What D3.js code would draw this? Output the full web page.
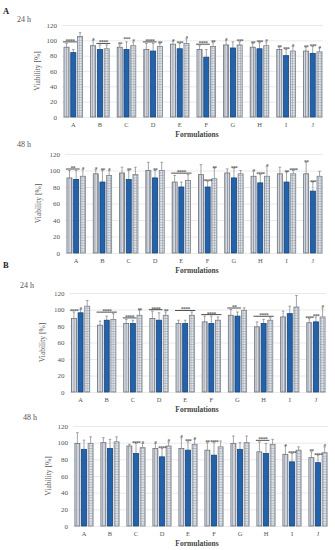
<!DOCTYPE html>
<html>
<head>
<meta charset="utf-8">
<script src="https://cdn.jsdelivr.net/npm/d3@7"></script>
<style>
  body { margin: 0; background: #fff; }
  svg { display: block; font-family: "Liberation Serif", "DejaVu Serif", serif; }
</style>
</head>
<body>
<div id="chart"></div>
<script>
const categories = ["A", "B", "C", "D", "E", "F", "G", "H", "I", "J"];
const yTicks = [0, 20, 40, 60, 80, 100, 120];

// A, 24 h
const a24Striped = [91, 93, 91, 88, 95, 88, 94, 91, 88, 86];
const a24Blue = [84, 88, 88, 86, 89, 78, 90, 89, 80, 83];
const a24Checked = [105, 89, 93, 92, 96, 92, 94, 93, 86, 85];
const a24StripedSd = [5, 7, 3, 8, 4, 5, 6, 5, 3, 5];
const a24BlueSd = [4, 6, 10, 10, 7, 10, 8, 8, 8, 9];
const a24CheckedSd = [5, 5, 5, 4, 6, 5, 4, 5, 6, 5];
const a24Stars = [["B", 0, "*"], ["C", 0, "**"], ["C", 2, "*"], ["D", 2, "**"], ["E", 0, "*"], ["E", 1, "***"], ["E", 2, "*"],
  ["F", 2, "**"], ["G", 0, "*"], ["G", 2, "***"], ["H", 0, "**"], ["H", 1, "***"], ["H", 2, "*"],
  ["I", 0, "**"], ["I", 1, "***"], ["I", 2, "*"], ["J", 0, "**"], ["J", 1, "***"], ["J", 2, "*"]];
const a24Lines = [["A", 0, 1, "****"], ["B", 1, 2, "****"], ["C", 1, 1, "***"], ["D", 0, 1, "****"], ["F", 0, 1, "****"]];

// A, 48 h
const a48Striped = [91, 96, 97, 100, 86, 95, 97, 93, 96, 96];
const a48Blue = [89, 86, 89, 91, 80, 80, 91, 85, 86, 75];
const a48Checked = [93, 94, 95, 100, 88, 90, 96, 93, 96, 93];
const a48StripedSd = [9, 5, 7, 10, 8, 12, 5, 6, 8, 14];
const a48BlueSd = [11, 14, 11, 9, 6, 7, 12, 10, 12, 11];
const a48CheckedSd = [8, 6, 9, 10, 7, 13, 4, 12, 4, 6];
const a48Stars = [["A", 2, "*"], ["B", 0, "*"], ["B", 1, "**"], ["B", 2, "*"], ["C", 1, "**"], ["D", 1, "**"],
  ["F", 1, "****"], ["F", 2, "**"], ["G", 1, "***"], ["H", 0, "*"], ["H", 1, "****"], ["H", 2, "*"],
  ["I", 1, "**"], ["I", 2, "****"], ["J", 0, "**"], ["J", 1, "***"]];
const a48Lines = [["A", 0, 1, "**"], ["E", 0, 2, "****"]];

// B, 24 h
const b24Striped = [89, 81, 83, 89, 83, 85, 93, 79, 91, 84];
const b24Blue = [96, 87, 83, 87, 83, 83, 92, 83, 95, 85];
const b24Checked = [104, 88, 93, 93, 93, 87, 99, 87, 103, 91];
const b24StripedSd = [8, 5, 5, 9, 4, 7, 7, 6, 7, 5];
const b24BlueSd = [4, 5, 4, 9, 4, 9, 5, 5, 9, 6];
const b24CheckedSd = [7, 7, 6, 4, 4, 4, 3, 3, 14, 11];
const b24Stars = [["A", 0, "****"], ["A", 1, "*"], ["C", 2, "**"], ["D", 2, "**"], ["J", 0, "****"], ["J", 1, "***"], ["J", 2, "*"]];
const b24Lines = [["B", 0, 2, "****"], ["C", 0, 1, "****"], ["D", 0, 1, "****"], ["E", 0, 2, "****"],
  ["F", 0, 2, "****"], ["G", 0, 1, "**"], ["H", 0, 2, "****"]];

// B, 48 h
const b48Striped = [99, 100, 96, 93, 93, 91, 99, 89, 86, 82];
const b48Blue = [92, 93, 87, 83, 91, 85, 92, 87, 77, 76];
const b48Checked = [99, 101, 94, 96, 98, 95, 100, 98, 91, 88];
const b48StripedSd = [13, 6, 2, 6, 13, 9, 9, 12, 10, 7];
const b48BlueSd = [11, 11, 12, 10, 10, 15, 8, 12, 10, 9];
const b48CheckedSd = [8, 6, 5, 5, 6, 7, 8, 6, 4, 7];
const b48Stars = [["C", 1, "****"], ["C", 2, "*"], ["D", 0, "*"], ["D", 1, "****"], ["D", 2, "*"], ["E", 0, "*"], ["E", 1, "***"], ["E", 2, "*"],
  ["F", 0, "**"], ["F", 1, "****"], ["I", 0, "*"], ["I", 1, "****"], ["J", 0, "**"], ["J", 1, "****"], ["J", 2, "*"]];
const b48Lines = [["H", 0, 1, "****"]];

const W = 335, H = 550;
const svg = d3.select("#chart").append("svg").attr("width", W).attr("height", H);

// fill patterns
const defs = svg.append("defs");
const stripe = defs.append("pattern").attr("id", "striped")
  .attr("patternUnits", "userSpaceOnUse").attr("width", 2.6).attr("height", 4);
stripe.append("rect").attr("width", 2.6).attr("height", 4).attr("fill", "#d3d8e1");
stripe.append("line").attr("x1", 1.3).attr("x2", 1.3).attr("y1", 0).attr("y2", 4)
  .attr("stroke", "#8c929c").attr("stroke-width", 0.8);
const check = defs.append("pattern").attr("id", "checked")
  .attr("patternUnits", "userSpaceOnUse").attr("width", 2.6).attr("height", 2.6);
check.append("rect").attr("width", 2.6).attr("height", 2.6).attr("fill", "#e2e6ed");
check.append("path").attr("d", "M1.3,0V2.6M0,1.3H2.6")
  .attr("stroke", "#a0a6b0").attr("stroke-width", 0.6).attr("fill", "none");

const seriesStyle = [
  { fill: "url(#striped)", stroke: "#6c727c" },
  { fill: "#2363ab", stroke: "#1a4277" },
  { fill: "url(#checked)", stroke: "#7a808a" }
];

const panels = [
  { letter: "A", letterY: 14, time: "24 h", timeX: 17, timeY: 22, x0: 60, x1: 326, yTop: 25, yBot: 117,
    values: [a24Striped, a24Blue, a24Checked], sds: [a24StripedSd, a24BlueSd, a24CheckedSd], stars: a24Stars, lines: a24Lines, titleX: 37 },
  { time: "48 h", timeX: 17, timeY: 147, x0: 63, x1: 326, yTop: 154, yBot: 253,
    values: [a48Striped, a48Blue, a48Checked], sds: [a48StripedSd, a48BlueSd, a48CheckedSd], stars: a48Stars, lines: a48Lines, titleX: 38 },
  { letter: "B", letterY: 268, time: "24 h", timeX: 20, timeY: 288, x0: 67.5, x1: 329, yTop: 293, yBot: 392,
    values: [b24Striped, b24Blue, b24Checked], sds: [b24StripedSd, b24BlueSd, b24CheckedSd], stars: b24Stars, lines: b24Lines, titleX: 42 },
  { time: "48 h", timeX: 23, timeY: 420, x0: 71, x1: 331, yTop: 426, yBot: 526,
    values: [b48Striped, b48Blue, b48Checked], sds: [b48StripedSd, b48BlueSd, b48CheckedSd], stars: b48Stars, lines: b48Lines, titleX: 48 }
];

panels.forEach(function (p) {
  const g = svg.append("g");

  if (p.letter) {
    svg.append("text").attr("x", 3).attr("y", p.letterY)
      .attr("font-size", 8.5).attr("font-weight", "bold").attr("fill", "#222").text(p.letter);
  }
  svg.append("text").attr("x", p.timeX).attr("y", p.timeY)
    .attr("font-size", 8).attr("fill", "#555").text(p.time);

  const x = d3.scaleBand().domain(categories).range([p.x0, p.x1])
    .paddingInner(0.3).paddingOuter(0.15);
  const xs = d3.scaleBand().domain([0, 1, 2]).range([0, x.bandwidth()]).paddingInner(0.25);
  const y = d3.scaleLinear().domain([0, 120]).range([p.yBot, p.yTop]);

  // y axis + gridlines
  const yAxis = g.append("g").attr("transform", "translate(" + (p.x0 + 2) + ",0)")
    .call(d3.axisLeft(y).tickValues(yTicks).tickSize(-(p.x1 - p.x0 - 5)).tickPadding(5));
  yAxis.select(".domain").remove();
  yAxis.selectAll(".tick line").attr("stroke", "#e4e4e4").attr("stroke-width", 0.8);
  yAxis.selectAll(".tick text").attr("font-family", "Liberation Serif, serif")
    .attr("font-size", 7).attr("fill", "#555");

  // x labels
  g.selectAll(".xl").data(categories).enter().append("text")
    .attr("x", (d) => x(d) + x.bandwidth() / 2).attr("y", p.yBot + 10)
    .attr("text-anchor", "middle").attr("font-size", 6.5).attr("fill", "#555").text((d) => d);

  // axis titles
  g.append("text").attr("transform", "translate(" + p.titleX + "," + ((p.yTop + p.yBot) / 2) + ") rotate(-90)")
    .attr("text-anchor", "middle").attr("dy", "0.35em").attr("font-size", 7.5).attr("fill", "#555")
    .text("Viability [%]");
  g.append("text").attr("x", 197).attr("y", p.yBot + 20).attr("text-anchor", "middle")
    .attr("font-size", 7.5).attr("font-weight", "bold").attr("fill", "#444").text("Formulations");

  // bars
  p.values.forEach(function (vals, s) {
    const rows = categories.map((c, i) => ({ c: c, v: vals[i], sd: p.sds[s][i] }));
    const cx = (d) => x(d.c) + xs(s) + xs.bandwidth() / 2;

    g.selectAll(".err" + s).data(rows).enter().append("path")
      .attr("d", (d) => "M" + cx(d) + "," + y(d.v) + "V" + y(d.v + d.sd) +
        "M" + (cx(d) - 1.3) + "," + y(d.v + d.sd) + "H" + (cx(d) + 1.3))
      .attr("stroke", "#808080").attr("stroke-width", 0.7).attr("fill", "none");

    g.selectAll(".bar" + s).data(rows).enter().append("rect")
      .attr("x", (d) => x(d.c) + xs(s))
      .attr("y", (d) => y(d.v))
      .attr("width", xs.bandwidth())
      .attr("height", (d) => y(0) - y(d.v))
      .attr("fill", seriesStyle[s].fill)
      .attr("stroke", seriesStyle[s].stroke)
      .attr("stroke-width", 0.8);
  });

  const topOf = (c, s) => {
    const i = categories.indexOf(c);
    return y(p.values[s][i] + p.sds[s][i]);
  };
  const barX = (c, s) => x(c) + xs(s);

  // significance stars
  g.selectAll(".star").data(p.stars).enter().append("text")
    .attr("x", (d) => barX(d[0], d[1]) + xs.bandwidth() / 2)
    .attr("y", (d) => topOf(d[0], d[1]) + 1.5)
    .attr("text-anchor", "middle").attr("font-size", 5.5).attr("letter-spacing", -0.7)
    .attr("fill", "#222")
    .text((d) => d[2]);

  // bracket lines with stars
  p.lines.forEach(function (l) {
    let top = Infinity;
    for (let s = l[1]; s <= l[2]; s++) top = Math.min(top, topOf(l[0], s));
    const ly = top - 1.5;
    const lx0 = barX(l[0], l[1]) - 1;
    const lx1 = barX(l[0], l[2]) + xs.bandwidth() + 1;
    if (l[1] !== l[2]) {
      g.append("line").attr("x1", lx0).attr("x2", lx1).attr("y1", ly).attr("y2", ly)
        .attr("stroke", "#222").attr("stroke-width", 0.8);
    }
    g.append("text").attr("x", (lx0 + lx1) / 2).attr("y", ly + 1)
      .attr("text-anchor", "middle").attr("font-size", 5.5).attr("letter-spacing", -0.5)
      .attr("fill", "#222").text(l[3]);
  });
});
</script>
</body>
</html>
